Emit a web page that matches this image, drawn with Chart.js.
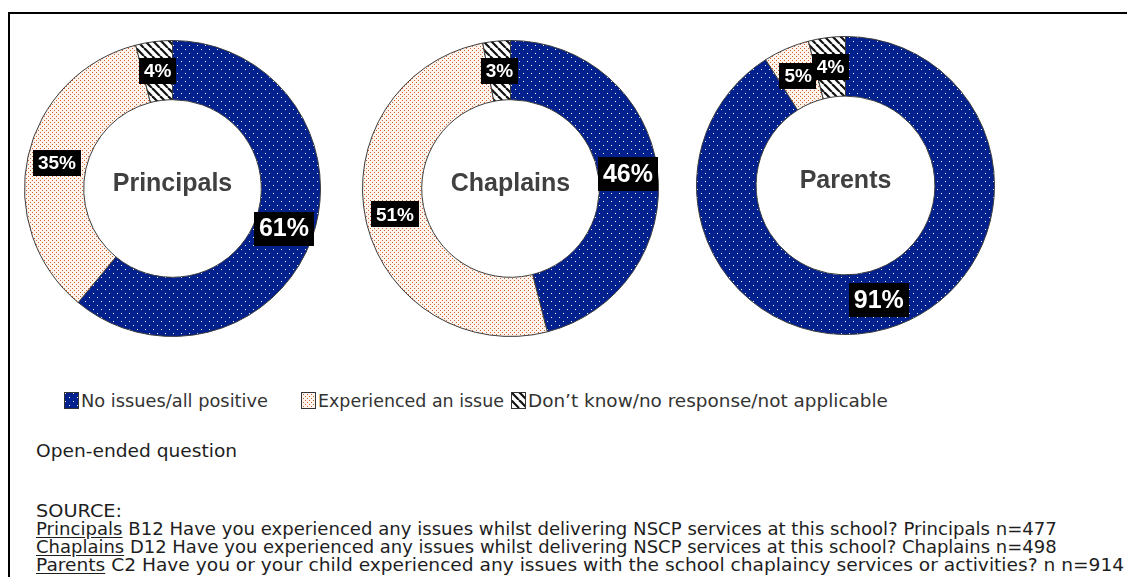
<!DOCTYPE html>
<html lang="en">
<head>
<meta charset="UTF-8">
<title>Issues experienced with school chaplaincy services</title>
<script src="https://cdn.jsdelivr.net/npm/chart.js"></script>
<style>
    body {
        margin: 0;
        width: 1127px;
        height: 577px;
        overflow: hidden;
        position: relative;
        background: #fff;
        font-family: 'DejaVu Sans', Verdana, sans-serif;
        color: #1e1e1e;
    }
    #frame {
        position: absolute;
        left: 8px;
        top: 12px;
        width: 1119px;
        height: 570px;
        border-top: 2px solid #000;
        border-left: 2px solid #000;
    }
    .donut { position: absolute; }
    .legend-item {
        position: absolute;
        top: 392px;
        height: 17px;
        display: flex;
        align-items: center;
    }
    .legend-item canvas { display: block; margin-right: 2px; }
    .fit {
        position: absolute;
        white-space: nowrap;
        font-size: 18px;
        line-height: 18px;
        transform-origin: left top;
        display: inline-block;
    }
    .legend-item .fit { font-size: 17px; color: #333; }
    .fit u { text-underline-offset: 2px; }
</style>
</head>
<body>
<div id="frame"></div>

<canvas id="chart-principals" class="donut" width="297" height="297" style="left:24px; top:40px;"></canvas>
<canvas id="chart-chaplains" class="donut" width="297" height="297" style="left:362px; top:40px;"></canvas>
<canvas id="chart-parents" class="donut" width="299" height="299" style="left:696px; top:36px;"></canvas>

<div id="legend"></div>

<span class="fit" data-w="201" style="left:36px; top:442px;">Open-ended question</span>
<span class="fit" data-w="86" style="left:36px; top:502px;">SOURCE:</span>
<span class="fit" data-w="1021" style="left:36px; top:520px;"><u>Principals</u> B12 Have you experienced any issues whilst delivering NSCP services at this school? Principals n=477</span>
<span class="fit" data-w="1021" style="left:36px; top:538px;"><u>Chaplains</u> D12 Have you experienced any issues whilst delivering NSCP services at this school? Chaplains n=498</span>
<span class="fit" data-w="1088" style="left:36px; top:556px;"><u>Parents</u> C2 Have you or your child experienced any issues with the school chaplaincy services or activities? n n=914</span>

<script>
    // Response categories, in drawing order (clockwise from 12 o'clock)
    const categories = ['No issues/all positive', 'Experienced an issue', 'Don\u2019t know/no response/not applicable'];
    const groups = ['Principals', 'Chaplains', 'Parents'];

    // Percentages per respondent group
    const principalsValues = [61, 35, 4];
    const chaplainsValues = [46, 51, 3];
    const parentsValues = [91, 5, 4];

    function makeTile(size, draw) {
        const c = document.createElement('canvas');
        c.width = size;
        c.height = size;
        draw(c.getContext('2d'), size);
        return c;
    }

    // Navy with white dots
    const dotsTile = makeTile(8, (g, s) => {
        g.fillStyle = '#03208f';
        g.fillRect(0, 0, s, s);
        g.fillStyle = '#ffffff';
        g.fillRect(1, 1, 1, 1);
        g.fillRect(5, 5, 1, 1);
    });

    // Near-white with fine orange dots
    const peachTile = makeTile(4, (g, s) => {
        g.fillStyle = '#fff4ee';
        g.fillRect(0, 0, s, s);
        g.fillStyle = '#d0602a';
        g.fillRect(0, 0, 1, 1);
        g.fillRect(2, 2, 1, 1);
    });

    // White with black diagonal stripes
    const hatchTile = makeTile(8, (g, s) => {
        g.fillStyle = '#ffffff';
        g.fillRect(0, 0, s, s);
        g.strokeStyle = '#111';
        g.lineWidth = 2.2;
        for (let x = -s; x <= s; x += s) {
            g.beginPath();
            g.moveTo(x, 0);
            g.lineTo(x + s, s);
            g.stroke();
        }
    });

    const tiles = [dotsTile, peachTile, hatchTile];

    function patternsFor(ctx) {
        return tiles.map(t => ctx.createPattern(t, 'repeat'));
    }

    // Percent boxes on each slice plus the group name in the hole
    const sliceLabels = {
        id: 'sliceLabels',
        afterDatasetsDraw(chart) {
            const ctx = chart.ctx;
            const meta = chart.getDatasetMeta(0);
            const values = chart.data.datasets[0].data;
            ctx.save();
            meta.data.forEach((arc, i) => {
                const p = arc.tooltipPosition();
                const size = i === 0 ? 25 : 19;
                const text = values[i] + '%';
                ctx.font = 'bold ' + size + 'px "Liberation Sans", Arial, sans-serif';
                const w = ctx.measureText(text).width + 10;
                const h = Math.round(size * 1.35);
                ctx.fillStyle = '#000';
                ctx.fillRect(Math.round(p.x - w / 2), Math.round(p.y - h / 2), Math.round(w), h);
                ctx.fillStyle = '#fff';
                ctx.textAlign = 'center';
                ctx.textBaseline = 'middle';
                ctx.fillText(text, p.x, p.y + 1);
            });

            const arc0 = meta.data[0];
            ctx.font = 'bold 25px "Liberation Sans", Arial, sans-serif';
            ctx.fillStyle = '#404040';
            ctx.textAlign = 'center';
            ctx.textBaseline = 'middle';
            ctx.fillText(chart.options.plugins.groupName, arc0.x, arc0.y - 4);
            ctx.restore();
        }
    };

    function createDonut(id, name, values) {
        const ctx = document.getElementById(id).getContext('2d');
        return new Chart(ctx, {
            type: 'doughnut',
            data: {
                labels: categories,
                datasets: [{
                    data: values,
                    backgroundColor: patternsFor(ctx),
                    borderColor: '#3c3c3c',
                    borderWidth: 1
                }]
            },
            options: {
                responsive: false,
                animation: false,
                cutout: '60%',
                layout: { padding: 0 },
                plugins: {
                    legend: { display: false },
                    tooltip: { enabled: false },
                    groupName: name
                }
            },
            plugins: [sliceLabels]
        });
    }

    createDonut('chart-principals', groups[0], principalsValues);
    createDonut('chart-chaplains', groups[1], chaplainsValues);
    createDonut('chart-parents', groups[2], parentsValues);

    // Shared legend under the three rings
    const legendSpots = [
        { left: 64, width: 187 },
        { left: 301, width: 186 },
        { left: 511, width: 360 }
    ];
    const legend = document.getElementById('legend');
    categories.forEach((label, i) => {
        const item = document.createElement('div');
        item.className = 'legend-item';
        item.style.left = legendSpots[i].left + 'px';

        const swatch = document.createElement('canvas');
        swatch.width = 15;
        swatch.height = 17;
        const g = swatch.getContext('2d');
        g.fillStyle = g.createPattern(tiles[i], 'repeat');
        g.fillRect(0, 0, 15, 17);
        g.strokeStyle = '#333';
        g.lineWidth = 1;
        g.strokeRect(0.5, 0.5, 14, 16);
        item.appendChild(swatch);

        const text = document.createElement('span');
        text.className = 'fit';
        text.style.position = 'static';
        text.dataset.w = legendSpots[i].width;
        text.textContent = label;
        item.appendChild(text);
        legend.appendChild(item);
    });

    // Stretch each text run to its measured span
    document.querySelectorAll('.fit').forEach(el => {
        const target = Number(el.dataset.w);
        const natural = el.getBoundingClientRect().width;
        if (target && natural) {
            el.style.transform = 'scaleX(' + (target / natural).toFixed(3) + ')';
        }
    });
</script>
</body>
</html>
